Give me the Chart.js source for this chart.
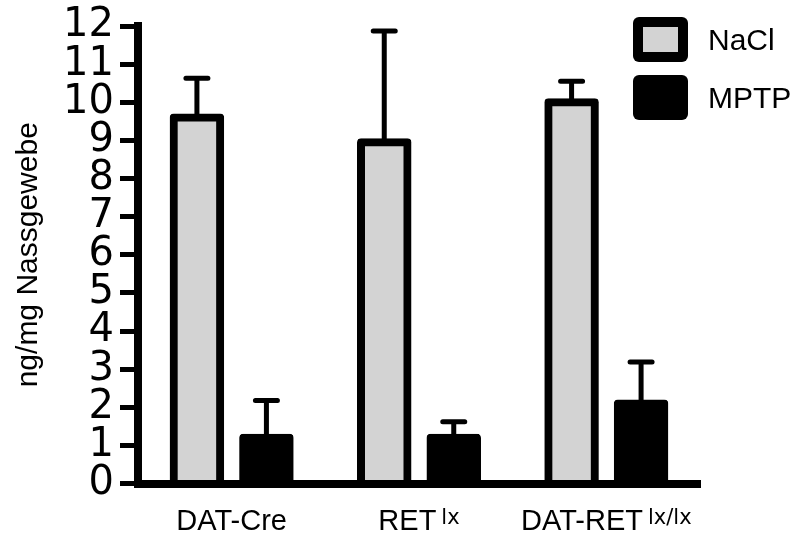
<!DOCTYPE html>
<html>
<head>
<meta charset="utf-8">
<script src="https://cdn.jsdelivr.net/npm/chart.js@4.4.1/dist/chart.umd.min.js"></script>
<style>
  html, body { margin: 0; padding: 0; background: #ffffff; }
  canvas { display: block; }
</style>
</head>
<body>
<canvas id="chart" width="795" height="535"></canvas>
<script>
// Groups on the x axis, with the superscript written after each name
const categories = ['DAT-Cre', 'RET', 'DAT-RET'];
const categorySup = ['', 'lx', 'lx/lx'];

// Series: means and upper error (SEM)
const seriesNames = ['NaCl', 'MPTP'];
const naclValues = [9.6, 8.95, 10.0];
const naclErrors = [1.03, 2.92, 0.55];
const mptpValues = [1.2, 1.2, 2.1];
const mptpErrors = [0.98, 0.42, 1.09];

// Y axis ticks
const yTicks = [0, 1, 2, 3, 4, 5, 6, 7, 8, 9, 10, 11, 12];
const yTitle = 'ng/mg Nassgewebe';

const BORDER = 8;

// Upward error whiskers with a rounded cap
const errorBars = {
  id: 'errorBars',
  afterDatasetsDraw(chart) {
    const { ctx } = chart;
    const y = chart.scales.y;
    ctx.save();
    ctx.strokeStyle = '#000';
    ctx.lineWidth = 5;
    ctx.lineCap = 'round';
    chart.data.datasets.forEach((ds, di) => {
      const meta = chart.getDatasetMeta(di);
      meta.data.forEach((bar, i) => {
        const v = ds.data[i];
        const e = ds.errors[i];
        const y0 = y.getPixelForValue(v);
        const y1 = y.getPixelForValue(v + e);
        ctx.beginPath();
        ctx.moveTo(bar.x, y0);
        ctx.lineTo(bar.x, y1);
        ctx.moveTo(bar.x - 11, y1);
        ctx.lineTo(bar.x + 11, y1);
        ctx.stroke();
      });
    });
    ctx.restore();
  }
};

// Category names with superscript genotype tags
const groupLabels = {
  id: 'groupLabels',
  afterDraw(chart) {
    const { ctx } = chart;
    const x = chart.scales.x;
    const mainFont = '29px "Liberation Sans", Arial, sans-serif';
    const supFont = '21px "DejaVu Sans", sans-serif';
    const baseline = x.top + 46;
    ctx.save();
    ctx.fillStyle = '#000';
    ctx.textBaseline = 'alphabetic';
    ctx.textAlign = 'left';
    categories.forEach((name, i) => {
      const cx = x.getPixelForValue(i);
      ctx.font = mainFont;
      const wm = ctx.measureText(name).width;
      const sup = categorySup[i];
      ctx.font = supFont;
      const ws = sup ? ctx.measureText(sup).width + 5 : 0;
      const left = cx - (wm + ws) / 2;
      ctx.font = mainFont;
      ctx.fillText(name, left, baseline);
      if (sup) {
        ctx.font = supFont;
        ctx.fillText(sup, left + wm + 5, baseline - 6);
      }
    });
    ctx.restore();
  }
};

// Legend with thick-bordered swatches in the top right corner
const legendBox = {
  id: 'legendBox',
  afterDraw(chart) {
    const { ctx } = chart;
    ctx.save();
    chart.data.datasets.forEach((ds, i) => {
      const bx = 633, by = 17 + i * 58, bw = 55, bh = 45, b = 10;
      ctx.fillStyle = '#000';
      ctx.beginPath();
      ctx.roundRect(bx, by, bw, bh, 6);
      ctx.fill();
      ctx.fillStyle = ds.backgroundColor;
      ctx.fillRect(bx + b, by + b, bw - 2 * b, bh - 2 * b);
      ctx.fillStyle = '#000';
      ctx.font = '30px "Liberation Sans", Arial, sans-serif';
      ctx.textBaseline = 'middle';
      ctx.textAlign = 'left';
      ctx.fillText(ds.label, 708, by + bh / 2 + 2);
    });
    ctx.restore();
  }
};

const barStyle = {
  borderColor: '#000',
  borderWidth: BORDER,
  borderRadius: 4,
  inflateAmount: BORDER / 2,
  categoryPercentage: 0.742,
  barPercentage: 0.669
};

new Chart(document.getElementById('chart'), {
  type: 'bar',
  data: {
    labels: categories,
    datasets: [
      Object.assign({ label: seriesNames[0], data: naclValues, errors: naclErrors, backgroundColor: '#d3d3d3' }, barStyle),
      Object.assign({ label: seriesNames[1], data: mptpValues, errors: mptpErrors, backgroundColor: '#000000' }, barStyle)
    ]
  },
  options: {
    responsive: false,
    animation: false,
    devicePixelRatio: 1,
    layout: { padding: { top: 24.5, right: 95, left: 0, bottom: 0 } },
    plugins: {
      legend: { display: false },
      tooltip: { enabled: false }
    },
    scales: {
      x: {
        grid: { display: false },
        border: { display: true, color: '#000', width: BORDER, z: 1 },
        ticks: { display: false },
        afterFit(scale) { scale.height = 51.5; }
      },
      y: {
        min: yTicks[0],
        max: yTicks[yTicks.length - 1],
        afterBuildTicks(scale) { scale.ticks = yTicks.map(v => ({ value: v })); },
        grid: {
          drawOnChartArea: false,
          drawTicks: true,
          tickLength: 18,
          tickWidth: 5,
          tickColor: '#000',
          lineWidth: 5,
          color: '#000'
        },
        border: { display: true, color: '#000', width: BORDER, z: 1 },
        ticks: {
          autoSkip: false,
          padding: 6,
          color: '#000',
          font: { family: '"DejaVu Sans", sans-serif', size: 40, lineHeight: 1 }
        },
        title: {
          display: true,
          text: yTitle,
          color: '#000',
          padding: { top: 11, bottom: 0 },
          font: { family: '"Liberation Sans", Arial, sans-serif', size: 30 }
        },
        afterFit(scale) { scale.width = 138; }
      }
    }
  },
  plugins: [errorBars, groupLabels, legendBox]
});
</script>
</body>
</html>
